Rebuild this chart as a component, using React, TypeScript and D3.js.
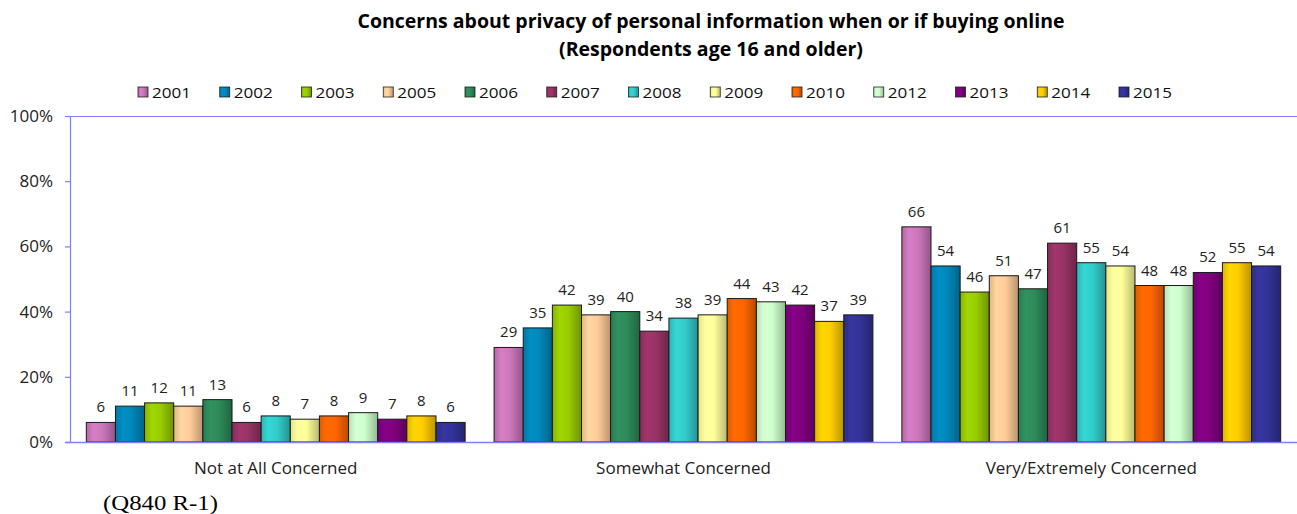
import React from "react";
import * as d3 from "d3";

const categories = ["Not at All Concerned", "Somewhat Concerned", "Very/Extremely Concerned"];
const years = ["2001", "2002", "2003", "2005", "2006", "2007", "2008", "2009", "2010", "2012", "2013", "2014", "2015"];
const yearColors = ["#CC77BB", "#0088BB", "#99CC00", "#FFCC99", "#2E8B5A", "#993366", "#33CCCC", "#FFFF99", "#FF6600", "#CCFFCC", "#800080", "#FFCC00", "#333399"];
const notAtAll = [6, 11, 12, 11, 13, 6, 8, 7, 8, 9, 7, 8, 6];
const somewhat = [29, 35, 42, 39, 40, 34, 38, 39, 44, 43, 42, 37, 39];
const very = [66, 54, 46, 51, 47, 61, 55, 54, 48, 48, 52, 55, 54];
const seriesByCategory = [notAtAll, somewhat, very];
const yTicks = [0, 20, 40, 60, 80, 100];
const titleLines = ["Concerns about privacy of personal information when or if buying online", "(Respondents age 16 and older)"];
const footnote = "(Q840 R-1)";

const W = 1297, H = 514;
const plotL = 70, plotR = 1297, plotT = 116, plotB = 442;
const font = "'Open Sans', sans-serif";

export default function App() {
  const x0 = d3.scaleBand<string>().domain(categories).range([plotL, plotR]).paddingInner(0.071).paddingOuter(0.04);
  const x1 = d3.scaleBand<string>().domain(years).range([0, x0.bandwidth()]);
  const y = d3.scaleLinear().domain([0, 100]).range([plotB, plotT]);
  const legendX = d3.scalePoint<string>().domain(years).range([143, 1124]);
  const axisColor = "#7f7fff";

  return (
    <svg width={W} height={H} style={{ position: "absolute", left: 0, top: 0, background: "#fff" }} fontFamily={font}>
      <defs>
        {yearColors.map((c, i) => {
          const base = d3.color(c)!;
          return (
            <linearGradient key={i} id={`g${i}`} x1="0" x2="1" y1="0" y2="0">
              <stop offset="0%" stopColor={d3.color(c)!.darker(0.35).formatHex()} />
              <stop offset="25%" stopColor={d3.color(c)!.brighter(0.15).formatHex()} />
              <stop offset="55%" stopColor={base.formatHex()} />
              <stop offset="100%" stopColor={d3.color(c)!.darker(0.9).formatHex()} />
            </linearGradient>
          );
        })}
      </defs>
      <rect x={0} y={0} width={W} height={H} fill="#fff" />
      {titleLines.map((t, i) => (
        <text key={i} x={711} y={28 + i * 28} textAnchor="middle" fontWeight="bold" fontSize={19.5} fill="#000">{t}</text>
      ))}
      {years.map((yr, i) => (
        <g key={yr} transform={`translate(${legendX(yr)},92)`}>
          <rect x={-5} y={-5} width={10} height={10} fill={`url(#g${i})`} stroke="#222" strokeWidth={0.8} />
          <text x={9} y={5.5} fontSize={15} textLength={39} lengthAdjust="spacingAndGlyphs" fill="#111">{yr}</text>
        </g>
      ))}
      <line x1={plotL} x2={plotR} y1={plotT + 0.5} y2={plotT + 0.5} stroke={axisColor} strokeWidth={1.2} />
      <line x1={plotL + 0.5} x2={plotL + 0.5} y1={plotT} y2={plotB} stroke={axisColor} strokeWidth={1.2} />
      {yTicks.map((t) => (
        <g key={t}>
          <line x1={plotL - 5} x2={plotL} y1={y(t) + 0.5} y2={y(t) + 0.5} stroke={axisColor} strokeWidth={1.2} />
          <text x={53} y={y(t) + 6} textAnchor="end" fontSize={17} fill="#222">{t}%</text>
        </g>
      ))}
      {categories.map((cat, ci) => (
        <g key={cat} transform={`translate(${x0(cat)},0)`}>
          {seriesByCategory[ci].map((v, i) => (
            <g key={i}>
              <rect x={x1(years[i])!} y={y(v)} width={x1.bandwidth()} height={plotB - y(v)} fill={`url(#g${i})`} stroke="#1a1a1a" strokeWidth={1} />
              <text x={x1(years[i])! + x1.bandwidth() / 2} y={y(v) - 10} textAnchor="middle" fontSize={15} fill="#222">{v}</text>
            </g>
          ))}
          <text x={x0.bandwidth() / 2} y={474} textAnchor="middle" fontSize={17} fill="#222">{cat}</text>
        </g>
      ))}
      <line x1={plotL - 5} x2={plotR} y1={plotB + 0.5} y2={plotB + 0.5} stroke={axisColor} strokeWidth={1.5} />
      <text x={103} y={510} fontFamily="'Liberation Serif', 'DejaVu Serif', serif" fontSize={21} textLength={115} lengthAdjust="spacingAndGlyphs" fill="#000">{footnote}</text>
    </svg>
  );
}
